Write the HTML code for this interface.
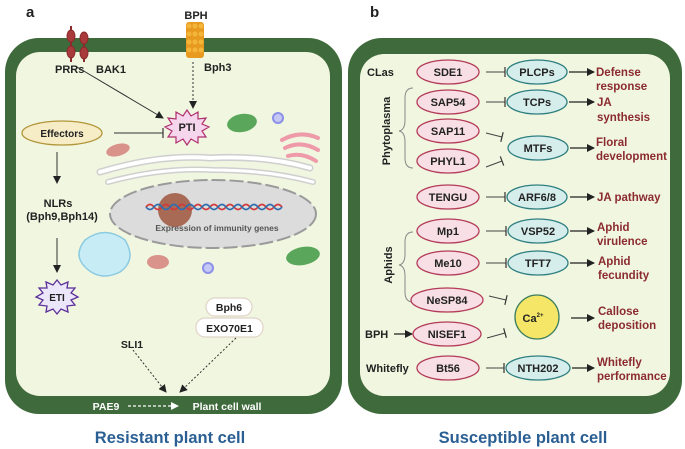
<!DOCTYPE html>
<html><head><meta charset="utf-8"><style>
body{margin:0;background:#fff}
svg{display:block}
text{font-family:"Liberation Sans",Arial,sans-serif;font-weight:bold}
</style></head><body>
<svg width="685" height="449" viewBox="0 0 685 449" xmlns="http://www.w3.org/2000/svg">
<defs>
<marker id="ah" markerWidth="8" markerHeight="8" refX="7" refY="4" orient="auto" markerUnits="userSpaceOnUse"><path d="M0,0 L8,4 L0,8 z" fill="#222"/></marker>
<marker id="ahw" markerWidth="8" markerHeight="8" refX="7" refY="4" orient="auto" markerUnits="userSpaceOnUse"><path d="M0,0 L8,4 L0,8 z" fill="#fff"/></marker>
<marker id="tb" markerWidth="2" markerHeight="10" refX="1" refY="5" orient="auto" markerUnits="userSpaceOnUse"><path d="M1,0 L1,10" stroke="#333" stroke-width="1.2"/></marker>
</defs>

<!-- LEFT CELL -->
<rect x="5" y="38" width="337" height="376" rx="34" fill="#3f6a3b"/>
<rect x="16" y="52" width="314" height="344" rx="24" fill="#f1f6e0"/>
<text x="26" y="17" font-size="15" fill="#222">a</text>
<text x="196" y="19" font-size="11" fill="#222" text-anchor="middle">BPH</text>
<g fill="#a83a3c" stroke="#8a2a2c" stroke-width="1">
<line x1="71" y1="26" x2="71" y2="62" stroke-width="2"/>
<line x1="84" y1="33" x2="84" y2="62" stroke-width="2"/>
<ellipse cx="71" cy="36" rx="4" ry="6"/><ellipse cx="71" cy="52" rx="4" ry="6"/>
<ellipse cx="84" cy="38" rx="4" ry="6"/><ellipse cx="84" cy="53" rx="4" ry="6"/>
</g>
<rect x="186" y="22" width="18" height="36" rx="3" fill="#e79a1f"/>
<g fill="#f3b53a">
<circle cx="189" cy="26" r="2.5"/><circle cx="195" cy="26" r="2.5"/><circle cx="201" cy="26" r="2.5"/>
<circle cx="189" cy="34" r="2.5"/><circle cx="195" cy="34" r="2.5"/><circle cx="201" cy="34" r="2.5"/>
<circle cx="189" cy="42" r="2.5"/><circle cx="195" cy="42" r="2.5"/><circle cx="201" cy="42" r="2.5"/>
<circle cx="189" cy="50" r="2.5"/><circle cx="195" cy="50" r="2.5"/><circle cx="201" cy="50" r="2.5"/>
</g>
<text x="55" y="73" font-size="11" fill="#222">PRRs</text>
<text x="96" y="73" font-size="11" fill="#222">BAK1</text>
<text x="204" y="71" font-size="11" fill="#222">Bph3</text>
<line x1="77" y1="67" x2="163" y2="118" stroke="#333" stroke-width="1" marker-end="url(#ah)"/>
<line x1="193" y1="62" x2="193" y2="108" stroke="#333" stroke-width="1" stroke-dasharray="2,2" marker-end="url(#ah)"/>
<polygon points="187,110 191,116 198,112 198,119 206,118 202,124 209,127 202,131 206,137 198,137 198,143 191,139 187,145 183,139 176,143 176,137 168,137 172,131 165,127 172,124 168,118 176,119 176,112 183,116" fill="#f6d6ec" stroke="#b0306f" stroke-width="1.2"/>
<text x="187" y="131" font-size="11" text-anchor="middle" fill="#222">PTI</text>
<ellipse cx="62" cy="133" rx="40" ry="12" fill="#f6ecc6" stroke="#b2963a" stroke-width="1.3"/>
<text x="62" y="137" font-size="10" text-anchor="middle" fill="#222">Effectors</text>
<line x1="114" y1="133" x2="163" y2="133" stroke="#333" stroke-width="1" marker-end="url(#tb)"/>
<ellipse cx="242" cy="123" rx="15" ry="9" fill="#5aa65a" transform="rotate(-10 242 123)"/>
<circle cx="278" cy="118" r="5" fill="#c5c8f5" stroke="#8c90e8" stroke-width="2"/>
<path d="M282,140 q18,-10 36,-2 M285,148 q16,-8 33,2 M288,156 q14,-4 28,5" stroke="#ee9aa8" stroke-width="4" fill="none" stroke-linecap="round"/>
<ellipse cx="118" cy="150" rx="12" ry="6" fill="#d9938a" transform="rotate(-15 118 150)"/>
<path d="M100,172 q60,-18 110,-14 q55,-3 100,10" stroke="#cfcfcf" stroke-width="7" fill="none" stroke-linecap="round"/>
<path d="M108,182 q55,-15 105,-12 q55,0 100,12" stroke="#cfcfcf" stroke-width="6" fill="none" stroke-linecap="round"/>
<path d="M100,172 q60,-18 110,-14 q55,-3 100,10" stroke="#fff" stroke-width="4" fill="none" stroke-linecap="round"/>
<path d="M108,182 q55,-15 105,-12 q55,0 100,12" stroke="#fff" stroke-width="3" fill="none" stroke-linecap="round"/>
<ellipse cx="213" cy="214" rx="103" ry="34" fill="#dcdcdc" stroke="#9a9a9a" stroke-width="2" stroke-dasharray="14,4"/>
<circle cx="175" cy="210" r="17" fill="#a86a55"/>
<path d="M146,207 q4,-5 8,0 t8,0 t8,0 t8,0 t8,0 t8,0 t8,0 t8,0 t8,0 t8,0 t8,0 t8,0 t8,0 t8,0 t8,0 t8,0 t8,0" stroke="#d43a3a" stroke-width="1.8" fill="none"/>
<path d="M146,207 q4,5 8,0 t8,0 t8,0 t8,0 t8,0 t8,0 t8,0 t8,0 t8,0 t8,0 t8,0 t8,0 t8,0 t8,0 t8,0 t8,0 t8,0" stroke="#2f6fb0" stroke-width="1.8" fill="none"/>
<text x="217" y="231" font-size="8.5" text-anchor="middle" fill="#555">Expression of immunity genes</text>
<path d="M85,240 q20,-15 40,0 q12,20 -5,32 q-20,10 -35,-5 q-12,-12 0,-27z" fill="#c7ecf6" stroke="#8ccbe0" stroke-width="1.5"/>
<ellipse cx="158" cy="262" rx="11" ry="7" fill="#d9938a"/>
<circle cx="208" cy="268" r="5" fill="#c5c8f5" stroke="#8c90e8" stroke-width="2"/>
<ellipse cx="303" cy="256" rx="17" ry="9" fill="#5aa65a" transform="rotate(-10 303 256)"/>
<text x="58" y="207" font-size="11" text-anchor="middle" fill="#222">NLRs</text>
<text x="62" y="220" font-size="11" text-anchor="middle" fill="#222">(Bph9,Bph14)</text>
<line x1="57" y1="152" x2="57" y2="183" stroke="#333" stroke-width="1" marker-end="url(#ah)"/>
<line x1="57" y1="238" x2="57" y2="272" stroke="#333" stroke-width="1" marker-end="url(#ah)"/>
<polygon points="57,280 61,285 68,282 67,288 75,288 71,293 78,297 71,300 75,305 67,306 68,312 61,309 57,314 53,309 46,312 47,306 39,305 43,300 36,297 43,293 39,288 47,288 46,282 53,285" fill="#ece6fb" stroke="#5a3098" stroke-width="1.3"/>
<text x="57" y="301" font-size="10" text-anchor="middle" fill="#222">ETI</text>
<rect x="206" y="298" width="46" height="18" rx="9" fill="#fff" stroke="#e0d3c6" stroke-width="1.2"/>
<text x="229" y="311" font-size="10.5" text-anchor="middle" fill="#222">Bph6</text>
<rect x="196" y="318" width="67" height="19" rx="9" fill="#fff" stroke="#e0d3c6" stroke-width="1.2"/>
<text x="229.5" y="332" font-size="10.5" text-anchor="middle" fill="#222">EXO70E1</text>
<text x="132" y="348" font-size="10.5" text-anchor="middle" fill="#222">SLI1</text>
<line x1="133" y1="350" x2="166" y2="392" stroke="#333" stroke-width="1" stroke-dasharray="2,2" marker-end="url(#ah)"/>
<line x1="236" y1="338" x2="180" y2="392" stroke="#333" stroke-width="1" stroke-dasharray="2,2" marker-end="url(#ah)"/>
<text x="106" y="410" font-size="10.5" text-anchor="middle" fill="#fff">PAE9</text>
<line x1="128" y1="406" x2="178" y2="406" stroke="#fff" stroke-width="1.2" stroke-dasharray="3,2" marker-end="url(#ahw)"/>
<text x="227" y="410" font-size="10.5" text-anchor="middle" fill="#fff">Plant cell wall</text>
<text x="170" y="443" font-size="16.5" text-anchor="middle" fill="#2a5f93">Resistant plant cell</text>

<!-- RIGHT CELL -->
<rect x="348" y="38" width="334" height="376" rx="34" fill="#3f6a3b"/>
<rect x="360" y="54" width="310" height="342" rx="24" fill="#f1f6e0"/>
<text x="370" y="17" font-size="15" fill="#222">b</text>

<g font-size="11" fill="#222">
<text x="367" y="76">CLas</text>
<text x="0" y="0" text-anchor="middle" transform="translate(390,131) rotate(-90)">Phytoplasma</text>
<text x="0" y="0" text-anchor="middle" transform="translate(392,265) rotate(-90)">Aphids</text>
<text x="365" y="338">BPH</text>
<text x="366" y="372">Whitefly</text>
</g>
<path d="M413,88 q-8,0 -8,10 v22 q0,10 -6,11 q6,1 6,11 v16 q0,10 8,10" stroke="#888" stroke-width="1" fill="none"/>
<path d="M413,232 q-8,0 -8,10 v12 q0,10 -6,11 q6,1 6,11 v16 q0,10 8,10" stroke="#888" stroke-width="1" fill="none"/>
<line x1="394" y1="334" x2="412" y2="334" stroke="#222" stroke-width="1.3" marker-end="url(#ah)"/>

<g stroke="#b33b57" stroke-width="1.3" fill="#f8dfe6">
<ellipse cx="448" cy="72" rx="31" ry="12"/>
<ellipse cx="448" cy="102" rx="31" ry="12"/>
<ellipse cx="448" cy="131" rx="31" ry="12"/>
<ellipse cx="448" cy="161" rx="31" ry="12"/>
<ellipse cx="448" cy="197" rx="31" ry="12"/>
<ellipse cx="448" cy="231" rx="31" ry="12"/>
<ellipse cx="448" cy="263" rx="31" ry="12"/>
<ellipse cx="447" cy="300" rx="36" ry="12"/>
<ellipse cx="447" cy="334" rx="34" ry="12"/>
<ellipse cx="448" cy="368" rx="31" ry="12"/>
</g>
<g stroke="#2f7f80" stroke-width="1.3" fill="#d5eeec">
<ellipse cx="537" cy="72" rx="30" ry="12"/>
<ellipse cx="537" cy="102" rx="30" ry="12"/>
<ellipse cx="538" cy="148" rx="30" ry="12"/>
<ellipse cx="537" cy="197" rx="30" ry="12"/>
<ellipse cx="538" cy="231" rx="30" ry="12"/>
<ellipse cx="538" cy="263" rx="30" ry="12"/>
<ellipse cx="538" cy="368" rx="32" ry="12"/>
</g>
<circle cx="537" cy="317" r="22" fill="#f5e667" stroke="#3e7f60" stroke-width="1.3"/>
<g font-size="11" fill="#222" text-anchor="middle">
<text x="448" y="76">SDE1</text><text x="448" y="106">SAP54</text><text x="448" y="135">SAP11</text>
<text x="448" y="165">PHYL1</text><text x="448" y="201">TENGU</text><text x="448" y="235">Mp1</text>
<text x="448" y="267">Me10</text><text x="447" y="304">NeSP84</text><text x="447" y="338">NISEF1</text>
<text x="448" y="372">Bt56</text>
<text x="537" y="76">PLCPs</text><text x="537" y="106">TCPs</text><text x="538" y="152">MTFs</text>
<text x="537" y="201">ARF6/8</text><text x="538" y="235">VSP52</text><text x="538" y="267">TFT7</text>
<text x="538" y="372">NTH202</text>
<text x="533" y="322">Ca<tspan font-size="6" dy="-5">2+</tspan></text>
</g>
<g stroke="#444" stroke-width="1" fill="none">
<line x1="486" y1="72" x2="505" y2="72" marker-end="url(#tb)"/>
<line x1="486" y1="102" x2="505" y2="102" marker-end="url(#tb)"/>
<line x1="486" y1="133" x2="502" y2="137" marker-end="url(#tb)"/>
<line x1="486" y1="167" x2="502" y2="161" marker-end="url(#tb)"/>
<line x1="486" y1="197" x2="505" y2="197" marker-end="url(#tb)"/>
<line x1="486" y1="231" x2="506" y2="231" marker-end="url(#tb)"/>
<line x1="486" y1="263" x2="506" y2="263" marker-end="url(#tb)"/>
<line x1="489" y1="296" x2="506" y2="300" marker-end="url(#tb)"/>
<line x1="487" y1="338" x2="505" y2="333" marker-end="url(#tb)"/>
<line x1="486" y1="368" x2="504" y2="368" marker-end="url(#tb)"/>
</g>
<g stroke="#222" stroke-width="1.2">
<line x1="569" y1="72" x2="594" y2="72" marker-end="url(#ah)"/>
<line x1="569" y1="102" x2="594" y2="102" marker-end="url(#ah)"/>
<line x1="570" y1="148" x2="594" y2="148" marker-end="url(#ah)"/>
<line x1="570" y1="197" x2="594" y2="197" marker-end="url(#ah)"/>
<line x1="570" y1="231" x2="594" y2="231" marker-end="url(#ah)"/>
<line x1="570" y1="263" x2="594" y2="263" marker-end="url(#ah)"/>
<line x1="571" y1="318" x2="594" y2="318" marker-end="url(#ah)"/>
<line x1="572" y1="368" x2="594" y2="368" marker-end="url(#ah)"/>
</g>
<g font-size="11.5" fill="#8b2b2f">
<text x="596" y="76">Defense</text><text x="596" y="90">response</text>
<text x="597" y="106">JA</text><text x="597" y="121">synthesis</text>
<text x="596" y="146">Floral</text><text x="596" y="160">development</text>
<text x="597" y="201">JA pathway</text>
<text x="597" y="231">Aphid</text><text x="597" y="245">virulence</text>
<text x="598" y="265">Aphid</text><text x="598" y="279">fecundity</text>
<text x="598" y="315">Callose</text><text x="598" y="329">deposition</text>
<text x="597" y="366">Whitefly</text><text x="597" y="380">performance</text>
</g>
<text x="523" y="443" font-size="16.5" text-anchor="middle" fill="#2a5f93">Susceptible plant cell</text>
</svg>
</body></html>
